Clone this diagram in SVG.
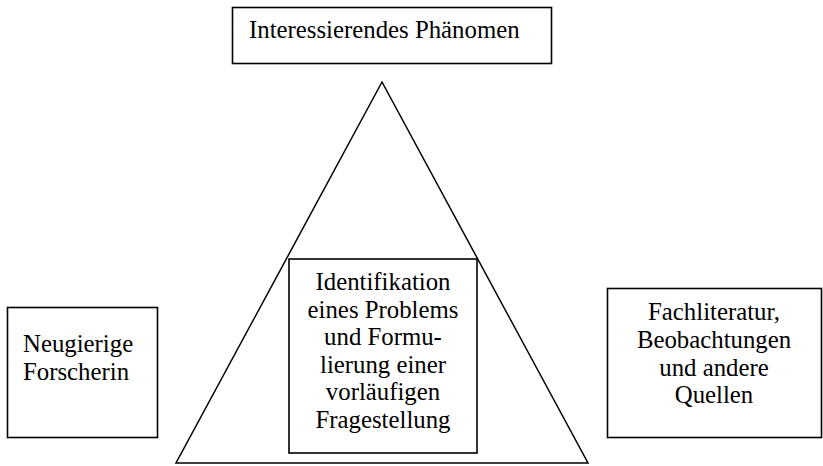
<svg xmlns="http://www.w3.org/2000/svg" width="823" height="466" viewBox="0 0 823 466">
<style>
.box{fill:#fff;stroke:#000;stroke-width:1.6}
.shape{fill:none;stroke:#000;stroke-width:1.5;stroke-linejoin:miter}
text{font-family:"Liberation Serif","Times New Roman",serif;font-size:24.8px;fill:#000}
.c{text-anchor:middle}
</style>
<rect width="823" height="466" fill="#fff"/>
<g id="triangle">
<polygon class="shape" points="382,82 176,463 588,463"/>
</g>
<g id="phaenomen">
<rect class="box" x="232.5" y="7.5" width="319" height="56"/>
<text x="249" y="38">Interessierendes Phänomen</text>
</g>
<g id="forscherin">
<rect class="box" x="7.5" y="307.5" width="150" height="130"/>
<text x="23" y="352">Neugierige</text>
<text x="23" y="380">Forscherin</text>
</g>
<g id="problem">
<rect class="box" x="289" y="259" width="188" height="194"/>
<text class="c" x="383" y="290">Identifikation</text>
<text class="c" x="383" y="317.6">eines Problems</text>
<text class="c" x="383" y="345.2">und Formu-</text>
<text class="c" x="383" y="372.8">lierung einer</text>
<text class="c" x="383" y="400.4">vorläufigen</text>
<text class="c" x="383" y="428">Fragestellung</text>
</g>
<g id="quellen">
<rect class="box" x="607.5" y="288.5" width="214" height="149"/>
<text class="c" x="714" y="320">Fachliteratur,</text>
<text class="c" x="714" y="348">Beobachtungen</text>
<text class="c" x="714" y="375.6">und andere</text>
<text class="c" x="714" y="403">Quellen</text>
</g>
</svg>
